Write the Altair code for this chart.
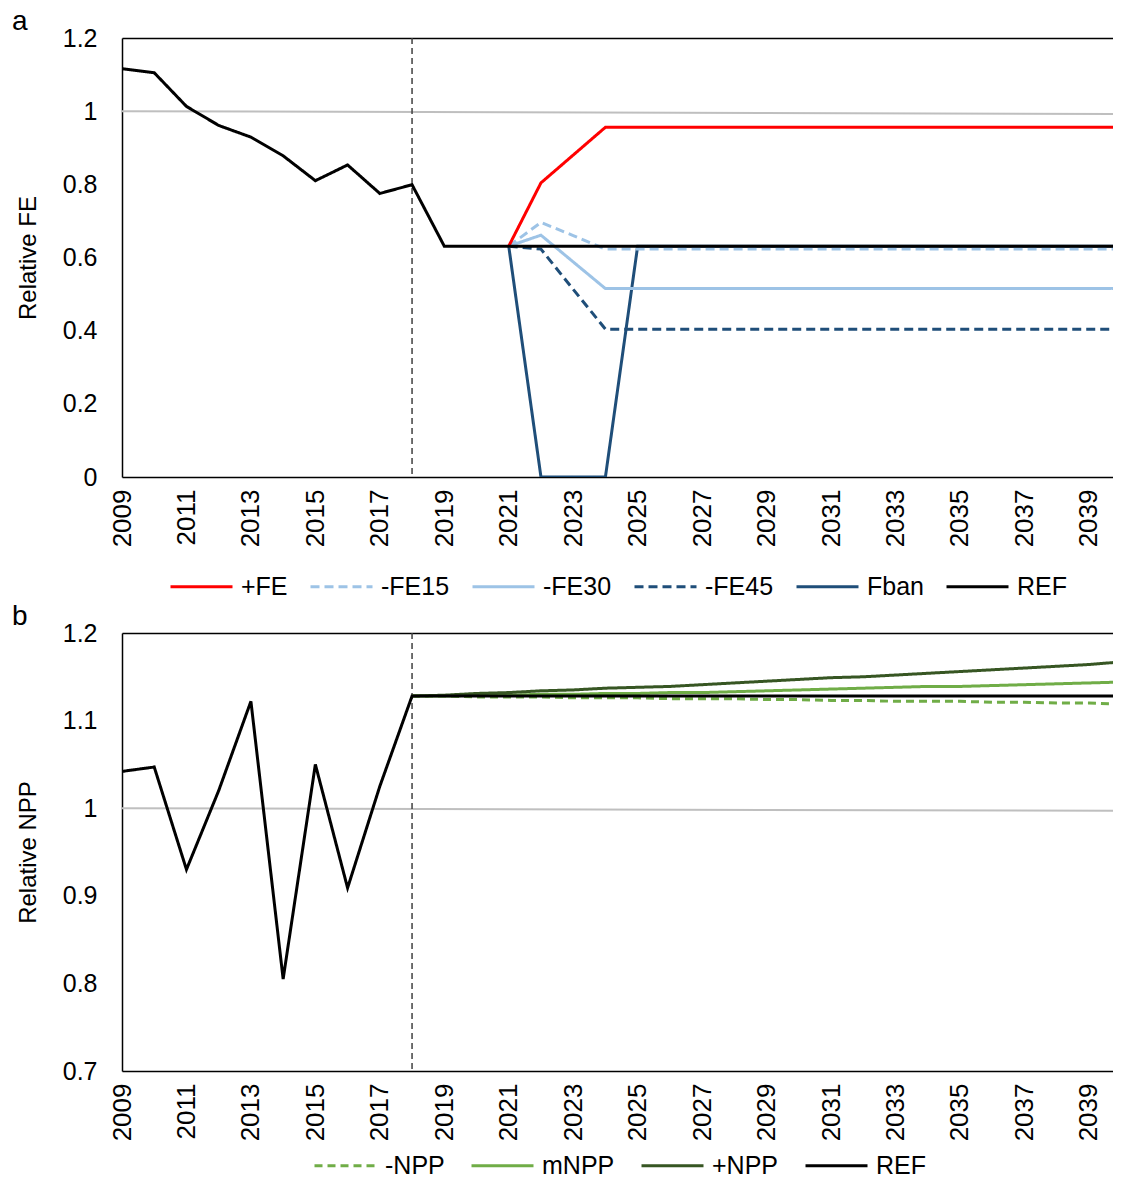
import altair as alt
import pandas as pd

# ---------------- data ----------------
years = [2009, 2010, 2011, 2012, 2013, 2014, 2015, 2016, 2017, 2018, 2019,
         2020, 2021, 2022, 2023, 2024, 2025, 2026, 2027, 2028, 2029, 2030,
         2031, 2032, 2033, 2034, 2035, 2036, 2037, 2038, 2039, 2040]

# Panel a: relative fishing effort
fe_ref = [1.116, 1.105, 1.013, 0.961, 0.929, 0.878, 0.810, 0.853, 0.775, 0.799, 0.631,
          0.631, 0.631, 0.631, 0.631, 0.631, 0.631, 0.631, 0.631, 0.631, 0.631, 0.631,
          0.631, 0.631, 0.631, 0.631, 0.631, 0.631, 0.631, 0.631, 0.631, 0.631]
scen_years = [2021, 2022, 2023, 2024, 2025, 2026, 2027, 2028, 2029, 2030, 2031,
              2032, 2033, 2034, 2035, 2036, 2037, 2038, 2039, 2040]
fe_plus = [0.631, 0.804, 0.880, 0.956, 0.956, 0.956, 0.956, 0.956, 0.956, 0.956, 0.956,
           0.956, 0.956, 0.956, 0.956, 0.956, 0.956, 0.956, 0.956, 0.956]
fe_m15 = [0.631, 0.696, 0.660, 0.623, 0.623, 0.623, 0.623, 0.623, 0.623, 0.623, 0.623,
          0.623, 0.623, 0.623, 0.623, 0.623, 0.623, 0.623, 0.623, 0.623]
fe_m30 = [0.631, 0.661, 0.588, 0.515, 0.515, 0.515, 0.515, 0.515, 0.515, 0.515, 0.515,
          0.515, 0.515, 0.515, 0.515, 0.515, 0.515, 0.515, 0.515, 0.515]
fe_m45 = [0.631, 0.623, 0.513, 0.404, 0.404, 0.404, 0.404, 0.404, 0.404, 0.404, 0.404,
          0.404, 0.404, 0.404, 0.404, 0.404, 0.404, 0.404, 0.404, 0.404]
fe_ban = [0.631, 0.0, 0.0, 0.0, 0.631, 0.631, 0.631, 0.631, 0.631, 0.631, 0.631,
          0.631, 0.631, 0.631, 0.631, 0.631, 0.631, 0.631, 0.631, 0.631]

# Panel b: relative net primary production
npp_ref = [1.042, 1.047, 0.930, 1.020, 1.122, 0.805, 1.050, 0.909, 1.025, 1.128, 1.128,
           1.128, 1.128, 1.128, 1.128, 1.128, 1.128, 1.128, 1.128, 1.128, 1.128, 1.128,
           1.128, 1.128, 1.128, 1.128, 1.128, 1.128, 1.128, 1.128, 1.128, 1.128]
npp_years = [2018, 2019, 2020, 2021, 2022, 2023, 2024, 2025, 2026, 2027, 2028, 2029,
             2030, 2031, 2032, 2033, 2034, 2035, 2036, 2037, 2038, 2039, 2040]
npp_plus = [1.128, 1.129, 1.131, 1.132, 1.134, 1.135, 1.137, 1.138, 1.139, 1.141, 1.143,
            1.145, 1.147, 1.149, 1.150, 1.152, 1.154, 1.156, 1.158, 1.160, 1.162, 1.164, 1.167]
npp_mid = [1.128, 1.128, 1.129, 1.129, 1.130, 1.130, 1.131, 1.131, 1.132, 1.132, 1.133,
           1.134, 1.135, 1.136, 1.137, 1.138, 1.139, 1.139, 1.140, 1.141, 1.142, 1.143, 1.144]
npp_minus = [1.128, 1.128, 1.127, 1.127, 1.127, 1.126, 1.126, 1.126, 1.125, 1.125, 1.125,
             1.124, 1.124, 1.123, 1.123, 1.122, 1.122, 1.122, 1.121, 1.121, 1.120, 1.120, 1.119]

base_years = [2009, 2040]
base_a = [1.0, 0.992]
base_b = [1.0, 0.997]
split_year = [2018]

x_ticks = [2009, 2011, 2013, 2015, 2017, 2019, 2021, 2023, 2025, 2027, 2029,
           2031, 2033, 2035, 2037, 2039]
ya_ticks = [0, 0.2, 0.4, 0.6, 0.8, 1.0, 1.2]
yb_ticks = [0.7, 0.8, 0.9, 1.0, 1.1, 1.2]

dom_a = ["+FE", "-FE15", "-FE30", "-FE45", "Fban", "REF"]
col_a = ["#FF0000", "#9DC3E6", "#9DC3E6", "#1F4E79", "#1F4E79", "#000000"]
dash_a = [[1, 0], [9, 5], [1, 0], [9, 5], [1, 0], [1, 0]]

dom_b = ["-NPP", "mNPP", "+NPP", "REF"]
col_b = ["#70AD47", "#70AD47", "#375623", "#000000"]
dash_b = [[8, 5], [1, 0], [1, 0], [1, 0]]

# ---------------- tables ----------------
def long(name, xs, vs):
    return pd.DataFrame({"scenario": name, "year": xs, "value": vs})

scen_a = pd.concat([
    long("Fban", scen_years, fe_ban),
    long("-FE45", scen_years, fe_m45),
    long("-FE30", scen_years, fe_m30),
    long("-FE15", scen_years, fe_m15),
    long("+FE", scen_years, fe_plus),
])
ref_a = long("REF", years, fe_ref)

scen_b = pd.concat([
    long("-NPP", npp_years, npp_minus),
    long("mNPP", npp_years, npp_mid),
    long("+NPP", npp_years, npp_plus),
])
ref_b = long("REF", years, npp_ref)

W = 991
FONT = "Liberation Sans, Arial"
XDOM = [2009, 2039.75]


def panel(letter, scen, ref, base_vals, dom, cols, dashes, ydom, yticks, ytitle,
          height, lx, ly, colpad):
    xs = alt.Scale(domain=XDOM, nice=False, zero=False)
    ys = alt.Scale(domain=ydom, nice=False, zero=False)
    yaxis = alt.Axis(
        values=yticks, format=".1~f", ticks=False, grid=False, labelPadding=25,
        labelFont=FONT, labelFontSize=25, labelColor="#000000",
        domainColor="#000000", domainWidth=1.5, title=ytitle, titleFont=FONT,
        titleFontSize=24, titleFontWeight="normal", titleColor="#000000",
        titlePadding=22)
    legend = alt.Legend(
        title=None, orient="none", legendX=lx, legendY=ly, direction="horizontal",
        symbolType="M-1,0H5.2", symbolSize=400, symbolStrokeWidth=3,
        labelFont=FONT, labelFontSize=25, labelColor="#000000",
        labelOffset=48, columnPadding=colpad, symbolOpacity=1, padding=0,
    )
    color = alt.Color("scenario:N", scale=alt.Scale(domain=dom, range=cols), legend=legend)
    sdash = alt.StrokeDash("scenario:N", scale=alt.Scale(domain=dom, range=dashes), legend=legend)

    base = alt.Chart(pd.DataFrame({"year": base_years, "value": base_vals})).mark_line(
        color="#BFBFBF", strokeWidth=2, clip=True
    ).encode(
        x=alt.X("year:Q", scale=xs, axis=alt.Axis(
            orient="top", labels=False, ticks=False, domain=True, domainColor="#000000",
            domainWidth=1.5, grid=False, title=None, minExtent=0, maxExtent=0)),
        y=alt.Y("value:Q", scale=ys, axis=yaxis),
    )
    rule = alt.Chart(pd.DataFrame({"year": split_year})).mark_rule(
        color="#404040", strokeWidth=1.5, strokeDash=[6, 4]
    ).encode(x=alt.X("year:Q", scale=xs, axis=None))

    scen_lines = alt.Chart(scen).mark_line(strokeWidth=3, clip=True).encode(
        x=alt.X("year:Q", scale=xs, axis=None),
        y=alt.Y("value:Q", scale=ys, axis=yaxis),
        color=color, strokeDash=sdash,
        order=alt.Order("year:Q"),
    )
    ref_line = alt.Chart(ref).mark_line(strokeWidth=3, clip=True).encode(
        x=alt.X("year:Q", scale=xs, axis=alt.Axis(
            values=x_ticks, format="d", labelAngle=270, ticks=False, grid=False,
            labelPadding=12, labelFont=FONT, labelFontSize=26, labelColor="#000000",
            domainColor="#000000", domainWidth=1.5, title=None, labelFlush=False,
            labelOverlap=False)),
        y=alt.Y("value:Q", scale=ys, axis=yaxis),
        color=color, strokeDash=sdash,
    )
    return alt.layer(base, rule, scen_lines, ref_line).resolve_axis(x="independent").properties(
        width=W, height=height,
        title=alt.TitleParams(letter, anchor="start", frame="group", dx=-110, fontSize=28,
                              font=FONT, fontWeight="normal", color="#000000", offset=-10),
    )


chart_a = panel("a", scen_a, ref_a, base_a, dom_a, col_a, dash_a, [0, 1.2], ya_ticks,
                "Relative FE", 439, 46, 536, 16)
chart_b = panel("b", scen_b, ref_b, base_b, dom_b, col_b, dash_b, [0.7, 1.2], yb_ticks,
                "Relative NPP", 438, 190, 520, 20)

chart = alt.vconcat(chart_a, chart_b, spacing=3).resolve_scale(
    color="independent", strokeDash="independent", y="independent"
).configure_view(stroke=None).properties(padding={"left": 4, "top": 0, "right": 0, "bottom": 0})

chart.save("out.html", embed_options={"renderer": "svg", "actions": False})
